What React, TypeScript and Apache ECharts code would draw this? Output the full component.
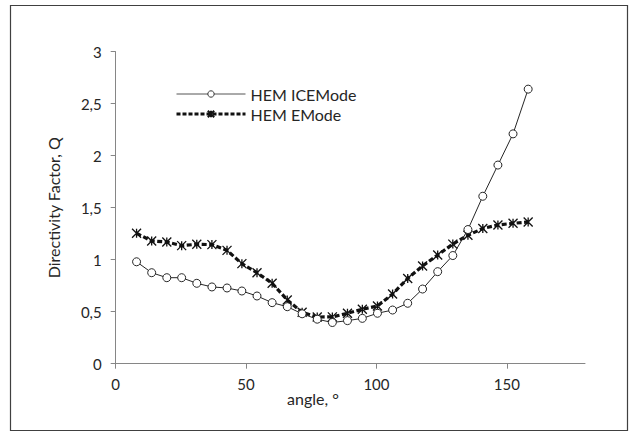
import React, { useEffect, useRef } from "react";
import * as echarts from "echarts";

const angles = [8, 13.8, 19.6, 25.3, 31.1, 36.9, 42.7, 48.4, 54.2, 60, 65.8, 71.5, 77.3, 83.1, 88.9, 94.6, 100.4, 106.2, 112, 117.7, 123.5, 129.3, 135.1, 140.8, 146.6, 152.4, 158.2];
const iceMode = [0.98, 0.875, 0.827, 0.827, 0.773, 0.738, 0.728, 0.699, 0.651, 0.587, 0.548, 0.48, 0.428, 0.396, 0.414, 0.436, 0.485, 0.516, 0.581, 0.718, 0.885, 1.04, 1.29, 1.61, 1.91, 2.21, 2.64];
const eMode = [1.254, 1.18, 1.17, 1.135, 1.148, 1.145, 1.09, 0.962, 0.875, 0.773, 0.613, 0.495, 0.449, 0.45, 0.485, 0.523, 0.555, 0.67, 0.82, 0.94, 1.045, 1.15, 1.235, 1.3, 1.334, 1.35, 1.363];
const xTicks = [0, 50, 100, 150];
const seriesNames = ["HEM ICEMode", "HEM EMode"];
const xAxisTitle = "angle, °";
const yAxisTitle = "Directivity Factor, Q";

const FONT = "Lato, 'Liberation Sans', sans-serif";
const TEXT = "#262626";
const AXIS = "#868686";

export default function App() {
  const ref = useRef<HTMLDivElement>(null);
  useEffect(() => {
    const chart = echarts.init(ref.current!, null, { renderer: "svg" });
    chart.setOption({
      animation: false,
      backgroundColor: "#fff",
      textStyle: { fontFamily: FONT },
      grid: { left: 115.7, right: 48, top: 51.7, bottom: 68.3, containLabel: false },
      legend: {
        orient: "vertical",
        left: 170,
        top: 81,
        itemWidth: 69,
        itemHeight: 8,
        itemGap: 4,
        textStyle: { fontSize: 16, color: TEXT, fontFamily: FONT },
        data: [
          {
            name: seriesNames[0],
            lineStyle: { width: 1, color: "#555" },
            itemStyle: { color: "#fff", borderColor: "#333", borderWidth: 1 },
          },
          {
            name: seriesNames[1],
            lineStyle: { width: 3, color: "#111", type: [4, 2] },
          },
        ],
      },
      xAxis: {
        type: "value",
        min: 0,
        max: 180,
        interval: 50,
        axisLine: { lineStyle: { color: AXIS, width: 1 } },
        axisTick: { show: true, length: 5, lineStyle: { color: AXIS }, customValues: xTicks },
        axisLabel: { fontSize: 15, color: TEXT, margin: 13, fontFamily: FONT, customValues: xTicks },
        splitLine: { show: false },
      },
      yAxis: {
        type: "value",
        min: 0,
        max: 3,
        interval: 0.5,
        name: yAxisTitle,
        nameLocation: "middle",
        nameGap: 54,
        nameTextStyle: { fontSize: 16, color: TEXT, fontFamily: FONT },
        axisLine: { show: true, lineStyle: { color: AXIS, width: 1 } },
        axisTick: { show: true, length: 5, lineStyle: { color: AXIS } },
        axisLabel: {
          fontSize: 15,
          color: TEXT,
          margin: 14,
          fontFamily: FONT,
          formatter: (v: number) => String(v).replace(".", ","),
        },
        splitLine: { show: false },
      },
      graphic: [
        {
          type: "rect",
          shape: { x: 10.5, y: 5.5, width: 617, height: 425 },
          style: { fill: "none", stroke: "#404040", lineWidth: 1.2 },
          silent: true,
        },
        {
          type: "text",
          x: 287,
          y: 398,
          style: { text: xAxisTitle, fontSize: 16, fill: TEXT, fontFamily: FONT, verticalAlign: "middle" },
          silent: true,
        },
      ],
      series: [
        {
          name: seriesNames[0],
          type: "line",
          data: angles.map((a, i) => [a, iceMode[i]]),
          symbol: "circle",
          symbolSize: 8,
          lineStyle: { color: "#262626", width: 1 },
          itemStyle: { color: "#fff", borderColor: "#262626", borderWidth: 1 },
          z: 3,
        },
        {
          name: seriesNames[1],
          type: "line",
          data: angles.map((a, i) => [a, eMode[i]]),
          symbol: "path://M5 0L5 10M0 0L10 10M0 10L10 0",
          symbolSize: 9,
          lineStyle: { color: "#111", width: 3.2, type: [5, 2.5] },
          itemStyle: { color: "#111", borderColor: "#111", borderWidth: 1.3 },
          z: 2,
        },
      ],
    });
    return () => chart.dispose();
  }, []);
  return <div ref={ref} style={{ position: "absolute", left: 0, top: 0, width: 633, height: 432 }} />;
}
